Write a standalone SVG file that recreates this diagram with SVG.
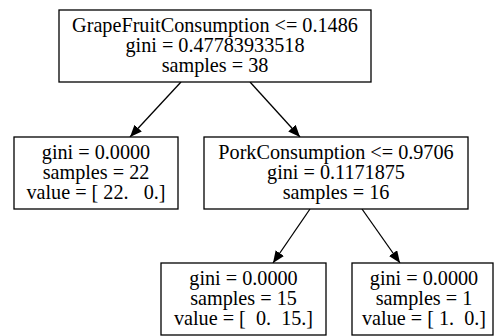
<svg xmlns="http://www.w3.org/2000/svg" width="500" height="336" viewBox="0 0 500 336">
  <style>
    .box { fill: #ffffff; stroke: #000000; stroke-width: 1.3; }
    .lbl { font-family: "Liberation Serif", "Times New Roman", serif; font-size: 20.2px; fill: #000000; text-anchor: middle; white-space: pre; }
    .edge { stroke: #000000; stroke-width: 1.3; fill: none; }
  </style>
  <defs>
    <!-- filled triangular arrowhead, tip at the line end -->
    <marker id="arrow" viewBox="0 0 12 10" refX="12" refY="5" markerWidth="12" markerHeight="10" markerUnits="userSpaceOnUse" orient="auto">
      <path d="M0,0 L12,5 L0,10 Z" fill="#000000"/>
    </marker>
  </defs>
  <rect width="500" height="336" fill="#ffffff"/>

  <g id="connectors">
    <line class="edge" x1="181" y1="82" x2="130" y2="137" marker-end="url(#arrow)"/>
    <line class="edge" x1="250" y1="82" x2="300" y2="137" marker-end="url(#arrow)"/>
    <line class="edge" x1="310" y1="209" x2="273" y2="263" marker-end="url(#arrow)"/>
    <line class="edge" x1="362" y1="209" x2="400" y2="263" marker-end="url(#arrow)"/>
  </g>

  <g id="node0">
    <rect class="box" x="59" y="10" width="312" height="72"/>
    <text class="lbl" x="215" y="32">GrapeFruitConsumption &lt;= 0.1486</text>
    <text class="lbl" x="215" y="52">gini = 0.47783933518</text>
    <text class="lbl" x="215" y="72">samples = 38</text>
  </g>

  <g id="node1">
    <rect class="box" x="14" y="137" width="164" height="72"/>
    <text class="lbl" x="96" y="159">gini = 0.0000</text>
    <text class="lbl" x="96" y="179">samples = 22</text>
    <text class="lbl" x="96" y="199" xml:space="preserve">value = [ 22.   0.]</text>
  </g>

  <g id="node2">
    <rect class="box" x="204" y="137" width="264" height="72"/>
    <text class="lbl" x="336" y="159">PorkConsumption &lt;= 0.9706</text>
    <text class="lbl" x="336" y="179">gini = 0.1171875</text>
    <text class="lbl" x="336" y="199">samples = 16</text>
  </g>

  <g id="node3">
    <rect class="box" x="161" y="263" width="165" height="72"/>
    <text class="lbl" x="243.5" y="285">gini = 0.0000</text>
    <text class="lbl" x="243.5" y="305">samples = 15</text>
    <text class="lbl" x="243.5" y="325" xml:space="preserve">value = [  0.  15.]</text>
  </g>

  <g id="node4">
    <rect class="box" x="352" y="263" width="141" height="72"/>
    <text class="lbl" x="424" y="285">gini = 0.0000</text>
    <text class="lbl" x="424" y="305">samples = 1</text>
    <text class="lbl" x="424" y="325" xml:space="preserve">value = [ 1.  0.]</text>
  </g>
</svg>
